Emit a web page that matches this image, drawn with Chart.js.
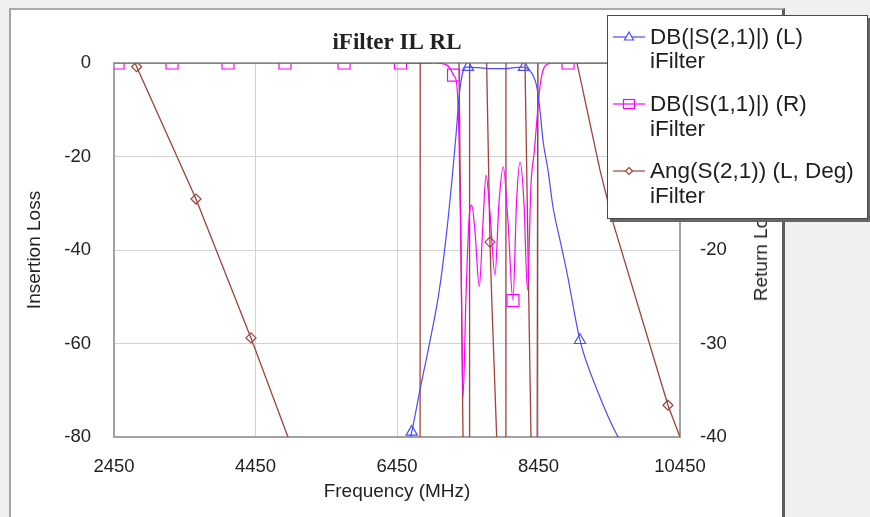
<!DOCTYPE html>
<html><head><meta charset="utf-8">
<script src="https://cdn.jsdelivr.net/npm/chart.js@4.4.1/dist/chart.umd.min.js"></script>
<style>
html,body{margin:0;padding:0;}
body{width:870px;height:517px;overflow:hidden;position:relative;background:#f0f0f0;font-family:"Liberation Sans",Arial,sans-serif;}
#panel{position:absolute;left:9px;top:8px;width:771px;height:515px;background:#fff;border-left:2px solid #a3a3a3;border-top:2px solid #ababab;border-right:3px solid #5c5c5c;}
#wrap{position:absolute;left:0;top:0;width:794px;height:517px;}
#rtitle{position:absolute;left:761px;top:250px;transform:translate(-50%,-50%) rotate(-90deg);font-size:19px;color:#222;white-space:nowrap;}
#legend{position:absolute;left:607px;top:15px;width:259px;height:202px;background:#fff;border:1px solid #4a4a4a;box-shadow:3px 3px 0 #666;}
.lt{position:absolute;left:42px;height:26px;line-height:26px;font-size:22.5px;color:#1e1e1e;white-space:nowrap;}
.li{position:absolute;left:5px;width:32px;height:16px;}
</style></head><body>
<div id="panel"></div>
<div id="wrap"><canvas id="c" width="794" height="517"></canvas></div>
<div id="rtitle">Return Loss</div>
<div id="legend"></div>
<script>
// ---------- data ----------
const chartTitle = 'iFilter IL RL';
const xTitle = 'Frequency (MHz)';
const yLeftTitle = 'Insertion Loss';
const docName = 'iFilter';
const seriesNames = ['DB(|S(2,1)|) (L)', 'DB(|S(1,1)|) (R)', 'Ang(S(2,1)) (L, Deg)'];
const xTickValues = [2450, 4450, 6450, 8450, 10450];

// DB(|S(2,1)|) - left axis
const s21Freq = [6500, 6658, 6775, 6916, 7044, 7143, 7227, 7284, 7326, 7368, 7425, 7453, 7600, 7800, 7990, 8100, 8245, 8301, 8372, 8429, 8471, 8513, 8584, 8655, 8754, 8853, 9036, 9277, 9574, 9885];
const s21dB   = [-88, -78.9, -69.9, -59.5, -49.0, -37.4, -25.0, -15.4, -7.5, -2.8, -0.9, -0.9, -1.0, -1.2, -1.2, -1.0, -0.9, -1.3, -2.6, -5.3, -10.1, -16.5, -22.9, -30.8, -37.9, -44.9, -59.3, -69.9, -80, -87];
const s21Markers = [6658, 7453, 8245, 9036];

// DB(|S(1,1)|) - right axis
const s11Freq = [2450, 2507, 3270, 4061, 4867, 5701, 6500, 6590, 6950, 7150, 7210, 7249, 7294, 7326, 7354, 7383, 7425, 7470, 7506, 7552, 7613, 7666, 7708, 7764, 7835, 7891, 7952, 8019, 8089, 8139, 8189, 8245, 8294, 8344, 8393, 8428, 8471, 8513, 8584, 8650, 8867, 10450];
const s11dB   = [0, 0, 0, 0, 0, 0, 0, 0, 0, -0.2, -0.7, -1.3, -2.2, -8, -20, -35.7, -25, -16.5, -15.2, -18, -23.9, -17, -12.0, -16, -22.7, -15, -11.1, -17, -25.4, -15, -10.6, -15, -24.3, -13, -9.3, -6, -2.5, -0.8, -0.1, 0, 0, 0];
const s11Markers = [2507, 3270, 4061, 4867, 5701, 6500, 7249, 8089, 8867];

// Ang(S(2,1)) - left axis, degrees (wraps at +/-180)
const angFreq = [2450, 2770, 3609, 4386, 4909, 5400, 6774, 6782, 7326, 7383, 7470, 7476, 7717, 7764, 7790, 7859, 7988, 7992, 8259, 8344, 8420, 8460, 8994, 9319, 9507, 10280, 10450];
const angDeg  = [11, -0.8, -29.1, -58.8, -80, -100, -180, 180, 0, -80, -180, 180, 0, -38.3, -51, -80, -180, 180, 0, -80, -180, 180, 0, -22.9, -34.3, -73.2, -80];
const angMarkers = [2770, 3609, 4386, 7764, 10280];

// ---------- styles ----------
const C_BLUE = '#4b4bff', C_MAG = '#ff00ff', C_MAG_DARK = '#7f2a7f', C_BROWN = '#a3403c';
const magDarkFrom = 6590;
const TXT = '#222';
const FONT = '"Liberation Sans", Arial, sans-serif';

function pts(xs, ys){ return xs.map((x,i)=>({x:x, y:ys[i]})); }
function markerRadius(list, r){ return ctx => (ctx.type==='data' && ctx.raw && list.includes(ctx.raw.x)) ? r : 0; }

const borderPlugin = {
  id:'plotBorder',
  beforeDatasetsDraw(chart){
    const a = chart.chartArea, c = chart.ctx;
    c.save(); c.strokeStyle = '#a2a2a2'; c.lineWidth = 2;
    c.strokeRect(a.left, a.top, a.right - a.left, a.bottom - a.top);
    c.restore();
  }
};

const chart = new Chart(document.getElementById('c'), {
  type: 'line',
  data: {
    datasets: [
      { label: seriesNames[0], data: pts(s21Freq, s21dB), yAxisID: 'y', borderColor: C_BLUE, borderWidth: 1.2,
        cubicInterpolationMode: 'monotone', pointStyle: 'triangle', pointRadius: markerRadius(s21Markers, 6.5),
        pointBorderColor: C_BLUE, pointBackgroundColor: 'rgba(0,0,0,0)', pointBorderWidth: 1.2 },
      { label: seriesNames[1], data: pts(s11Freq, s11dB), yAxisID: 'y2', borderColor: C_MAG, borderWidth: 1.2,
        cubicInterpolationMode: 'monotone', pointStyle: 'rect', pointRadius: markerRadius(s11Markers, 8.5),
        pointBorderColor: C_MAG, pointBackgroundColor: 'rgba(0,0,0,0)', pointBorderWidth: 1.2,
        segment: { borderColor: ctx => (ctx.p0.parsed.x >= magDarkFrom && ctx.p0.parsed.y === 0 && ctx.p1.parsed.y === 0) ? C_MAG_DARK : undefined } },
      { label: seriesNames[2], data: pts(angFreq, angDeg), yAxisID: 'y', borderColor: C_BROWN, borderWidth: 1.3,
        tension: 0, pointStyle: 'rectRot', pointRadius: markerRadius(angMarkers, 5),
        pointBorderColor: C_BROWN, pointBackgroundColor: 'rgba(0,0,0,0)', pointBorderWidth: 1.2 }
    ]
  },
  options: {
    responsive: false, devicePixelRatio: 1, animation: false,
    layout: { padding: 0 },
    plugins: {
      legend: { display: false }, tooltip: { enabled: false },
      title: { display: true, text: chartTitle, color: TXT,
        font: { family: '"Liberation Serif", "Times New Roman", serif', size: 23, weight: 'bold' },
        padding: { top: 29.5, bottom: 5.9 } }
    },
    scales: {
      x: { type: 'linear', min: 2450, max: 10450,
        afterBuildTicks: s => { s.ticks = xTickValues.map(v => ({ value: v })); },
        afterFit: s => { s.height = 80; },
        grid: { color: '#d2d2d2', lineWidth: 1, drawTicks: false },
        border: { display: false },
        ticks: { autoSkip: false, maxRotation: 0, padding: 19, color: TXT, font: { family: FONT, size: 18.5 }, callback: v => String(v) },
        title: { display: true, text: xTitle, color: TXT, font: { family: FONT, size: 19 }, padding: { top: 0, bottom: 13.6 } } },
      y: { position: 'left', min: -80, max: 0,
        afterFit: s => { s.width = 114; },
        grid: { color: '#d2d2d2', lineWidth: 1, drawTicks: false },
        border: { display: false },
        ticks: { stepSize: 20, padding: 23, color: TXT, font: { family: FONT, size: 18.5 }, callback: v => String(v) },
        title: { display: true, text: yLeftTitle, color: TXT, font: { family: FONT, size: 19 }, padding: { top: 23.6, bottom: 0 } } },
      y2: { position: 'right', min: -40, max: 0,
        afterFit: s => { s.width = 114; },
        grid: { display: false, drawTicks: false },
        border: { display: false },
        ticks: { stepSize: 10, padding: 20, color: TXT, font: { family: FONT, size: 18.5 }, callback: v => String(v) } }
    }
  },
  plugins: [borderPlugin]
});

// ---------- legend (HTML, built from the chart's datasets) ----------
const legend = document.getElementById('legend');
const icons = ['triangle', 'rect', 'rectRot'];
function iconSvg(kind, color){
  let m = '';
  if (kind === 'triangle') m = '<polygon points="16,3 20.5,11 11.5,11" fill="#fff" stroke="'+color+'" stroke-width="1.2"/>';
  else if (kind === 'rect') m = '<rect x="10.5" y="3.5" width="11" height="9" fill="none" stroke="'+color+'" stroke-width="1.2"/>';
  else m = '<polygon points="16,4.5 19.5,8 16,11.5 12.5,8" fill="#fff" stroke="'+color+'" stroke-width="1.2"/>';
  return '<svg width="32" height="16" viewBox="0 0 32 16"><line x1="0" y1="8" x2="32" y2="8" stroke="'+color+'" stroke-width="1.2"/>'+m+'</svg>';
}
chart.data.datasets.forEach((ds, i) => {
  const c1 = 20.5 + i * 67.2, c2 = c1 + 24.8;
  const ic = document.createElement('div'); ic.className = 'li'; ic.style.top = (c1 - 8) + 'px';
  ic.innerHTML = iconSvg(icons[i], ds.borderColor); legend.appendChild(ic);
  const t1 = document.createElement('div'); t1.className = 'lt'; t1.style.top = (c1 - 13) + 'px'; t1.textContent = ds.label; legend.appendChild(t1);
  const t2 = document.createElement('div'); t2.className = 'lt'; t2.style.top = (c2 - 13) + 'px'; t2.textContent = docName; legend.appendChild(t2);
});
</script>
</body></html>
